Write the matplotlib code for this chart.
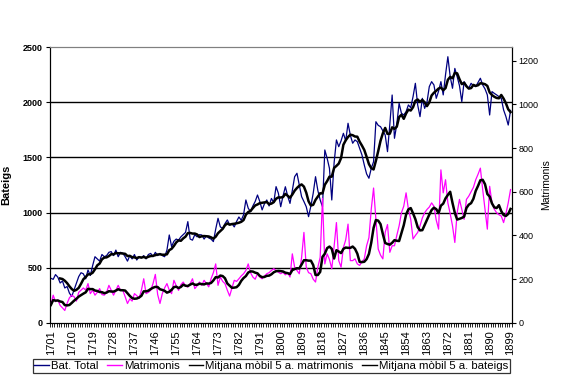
#! /usr/bin/env python

import numpy as np
import pandas as pd
import matplotlib
matplotlib.use('Agg')
import matplotlib.pyplot as plt
from matplotlib.lines import Line2D

plt.rcParams['font.family'] = ['Liberation Sans', 'DejaVu Sans']

### data: years 1701-1899
years = list(range(1701, 1900))

bateigs = [
    405, 395, 438, 415, 362, 380, 317, 330, 270, 240,
    300, 360, 420, 455, 445, 400, 480, 430, 520, 600,
    580, 560, 620, 600, 610, 640, 646, 610, 660, 600,
    640, 631, 600, 560, 610, 580, 620, 570, 600, 590,
    610, 580, 620, 630, 600, 640, 610, 630, 610, 600,
    660, 797, 692, 740, 760, 750, 780, 800, 820, 918,
    760, 750, 800, 780, 800, 797, 760, 790, 770, 760,
    737, 850, 948, 870, 857, 900, 933, 890, 900, 870,
    920, 960, 930, 980, 1114, 1040, 1008, 1060, 1100, 1159,
    1100, 1024, 1080, 1114, 1060, 1128, 1090, 1235, 1175, 1053,
    1150, 1234, 1150, 1083, 1200, 1325, 1356, 1250, 1144, 1100,
    1053, 963, 1060, 1175, 1325, 1200, 1114, 1053, 1567, 1492,
    1400, 1114, 1450, 1658, 1597, 1650, 1718, 1650, 1809, 1700,
    1628, 1658, 1642, 1582, 1522, 1431, 1350, 1311, 1400, 1461,
    1823, 1790, 1778, 1740, 1703, 1552, 1800, 2065, 1673, 1800,
    1990, 1900, 1884, 1914, 1975, 1950, 2050, 2171, 1975, 1869,
    2035, 1944, 2000, 2141, 2186, 2156, 2035, 2100, 2186, 2066,
    2250, 2412, 2231, 2126, 2306, 2231, 2150, 2005, 2186, 2150,
    2126, 2171, 2150, 2141, 2180, 2217, 2156, 2120, 2066, 1884,
    2096, 2080, 2066, 2050, 2035, 1930, 1870, 1793, 1925,
]

matrimonis = [
    82, 127, 97, 105, 80, 69, 57, 90, 115, 127,
    120, 100, 140, 150, 160, 150, 180, 134, 150, 127,
    140, 157, 130, 127, 140, 172, 150, 127, 150, 172,
    150, 149, 120, 89, 110, 100, 134, 125, 112, 150,
    202, 134, 140, 149, 180, 222, 130, 89, 134, 160,
    180, 150, 134, 195, 170, 149, 175, 187, 170, 164,
    180, 202, 157, 170, 187, 172, 195, 180, 165, 202,
    230, 270, 172, 210, 190, 180, 150, 123, 160, 195,
    190, 202, 215, 225, 240, 270, 230, 210, 200, 225,
    210, 202, 215, 225, 230, 240, 248, 240, 232, 225,
    232, 220, 230, 210, 316, 255, 240, 225, 300, 414,
    255, 230, 225, 200, 187, 255, 300, 570, 270, 316,
    290, 248, 350, 459, 285, 255, 345, 380, 452, 285,
    285, 293, 270, 263, 280, 293, 353, 390, 520, 617,
    474, 338, 310, 293, 414, 450, 323, 353, 353, 400,
    444, 504, 534, 595, 520, 474, 384, 400, 414, 444,
    480, 504, 519, 530, 549, 534, 470, 429, 700, 595,
    655, 549, 500, 444, 368, 504, 565, 520, 474, 565,
    580, 600, 620, 655, 680, 708, 610, 520, 429, 625,
    549, 520, 504, 495, 489, 459, 500, 549, 610,
]

xlabels = [str(y) for y in years[::9]]

### moving averages (5 years)
bat_ma = pd.Series(bateigs).rolling(5).mean()
mat_ma = pd.Series(matrimonis).rolling(5, min_periods=1).mean()

x = np.arange(len(years))

### figure
fig = plt.figure(figsize=(5.68, 3.84), dpi=100)
ax = fig.add_axes([0.0875, 0.159, 0.8134, 0.7186])
ax2 = ax.twinx()

ax.plot(x, bateigs, color='#000080', lw=0.9, zorder=3)
ax.plot(x, bat_ma, color='black', lw=1.8, zorder=4)
ax2.plot(x, matrimonis, color='#FF00FF', lw=0.9, zorder=3)
ax2.plot(x, mat_ma, color='black', lw=1.8, zorder=4)

ax.set_xlim(-0.5, len(years) - 0.5)
ax.set_ylim(0, 2500)
ax2.set_ylim(0, 1262)

### gridlines
for v in [500, 1000, 1500, 2000]:
    ax.axhline(v, color='black', lw=1, zorder=1)

ax.set_yticks([0, 500, 1000, 1500, 2000, 2500])
ax.tick_params(axis='y', labelsize=6.5, length=3, width=0.8, pad=2)
for t in ax.get_yticklabels():
    t.set_fontweight('bold')
ax2.set_yticks([0, 200, 400, 600, 800, 1000, 1200])
ax2.tick_params(axis='y', labelsize=6.5, length=3, width=0.8, pad=2)

ax.set_xticks(x[::9])
ax.set_xticklabels(xlabels, rotation=90, fontsize=8)
ax.set_xticks(np.arange(-0.5, len(years), 1), minor=True)
ax.tick_params(axis='x', which='major', length=0, pad=5)
ax.tick_params(axis='x', which='minor', length=3, width=0.6)

for a in (ax, ax2):
    a.spines['top'].set_color('#808080')
    a.spines['left'].set_color('black')
    a.spines['right'].set_color('black')
    a.spines['bottom'].set_color('black')

ax.set_ylabel('Bateigs', fontsize=8, fontweight='bold', labelpad=8)
ax2.set_ylabel('Matrimonis', fontsize=7.5, labelpad=2)

### legend
handles = [Line2D([], [], color='#000080', lw=1),
           Line2D([], [], color='#FF00FF', lw=1),
           Line2D([], [], color='black', lw=1),
           Line2D([], [], color='black', lw=1)]
names = ['Bat. Total', 'Matrimonis', 'Mitjana mòbil 5 a. matrimonis', 'Mitjana mòbil 5 a. bateigs']
leg = fig.legend(handles, names, loc='center', bbox_to_anchor=(0.4775, 0.0465), ncol=4,
                 fontsize=8.2, frameon=True, fancybox=False, handlelength=1.3,
                 handletextpad=0.15, columnspacing=0.8, borderpad=0.15, borderaxespad=0)
leg.get_frame().set_edgecolor('black')
leg.get_frame().set_linewidth(0.9)

plt.savefig('out.png', dpi=100)
